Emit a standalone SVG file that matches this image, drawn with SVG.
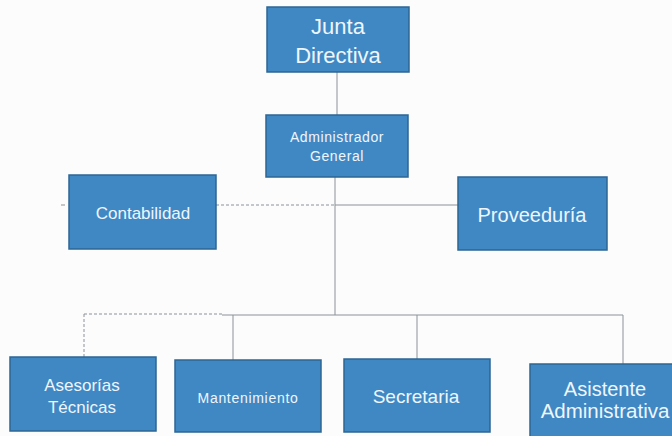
<svg xmlns="http://www.w3.org/2000/svg" width="672" height="436" viewBox="0 0 672 436">
<style>
.box{fill:#3f88c4;stroke:#2c6694;stroke-width:1.5}
.t{fill:#eef6fc;font-family:"Liberation Sans",Arial,sans-serif;text-anchor:middle}
.ln{fill:none;stroke:#8c9298;stroke-width:1}
.dash{stroke-dasharray:3 2}
</style>
<rect width="672" height="436" fill="#fcfcfc"/>
<g id="connectors">
<line class="ln" x1="337" y1="72" x2="337" y2="115"/>
<line class="ln" x1="335" y1="177" x2="335" y2="315"/>
<line class="ln dash" x1="216" y1="205" x2="335" y2="205"/>
<line class="ln" x1="335" y1="205" x2="459" y2="205"/>
<line class="ln" x1="61" y1="205" x2="65" y2="205"/>
<line class="ln dash" x1="84" y1="314" x2="222" y2="314"/>
<line class="ln" x1="222" y1="315" x2="623" y2="315"/>
<line class="ln dash" x1="84" y1="314" x2="84" y2="357"/>
<line class="ln" x1="233" y1="315" x2="233" y2="360"/>
<line class="ln" x1="417" y1="315" x2="417" y2="359"/>
<line class="ln" x1="623" y1="315" x2="623" y2="364"/>
</g>
<g id="junta">
<rect class="box" x="267" y="7" width="142" height="65"/>
<text class="t" x="338" y="34" font-size="22">Junta</text>
<text class="t" x="338" y="63" font-size="22">Directiva</text>
</g>
<g id="admin">
<rect class="box" x="266" y="115" width="142" height="62"/>
<text class="t" x="337" y="142" font-size="14" letter-spacing="0.6">Administrador</text>
<text class="t" x="337" y="161" font-size="14" letter-spacing="0.6">General</text>
</g>
<g id="contabilidad">
<rect class="box" x="69" y="175" width="147" height="74"/>
<text class="t" x="143" y="219" font-size="17">Contabilidad</text>
</g>
<g id="proveeduria">
<rect class="box" x="458" y="177" width="149" height="73"/>
<text class="t" x="532" y="222" font-size="20">Proveeduría</text>
</g>
<g id="asesorias">
<rect class="box" x="10" y="357" width="146" height="74"/>
<text class="t" x="82" y="391" font-size="17">Asesorías</text>
<text class="t" x="82" y="413" font-size="17">Técnicas</text>
</g>
<g id="mantenimiento">
<rect class="box" x="175" y="360" width="146" height="72"/>
<text class="t" x="248" y="403" font-size="14" letter-spacing="0.7">Mantenimiento</text>
</g>
<g id="secretaria">
<rect class="box" x="344" y="359" width="146" height="73"/>
<text class="t" x="416" y="403" font-size="19">Secretaria</text>
</g>
<g id="asistente">
<rect class="box" x="530" y="364" width="150" height="80"/>
<text class="t" x="605" y="396" font-size="20">Asistente</text>
<text class="t" x="605" y="418" font-size="20.5">Administrativa</text>
</g>
</svg>
